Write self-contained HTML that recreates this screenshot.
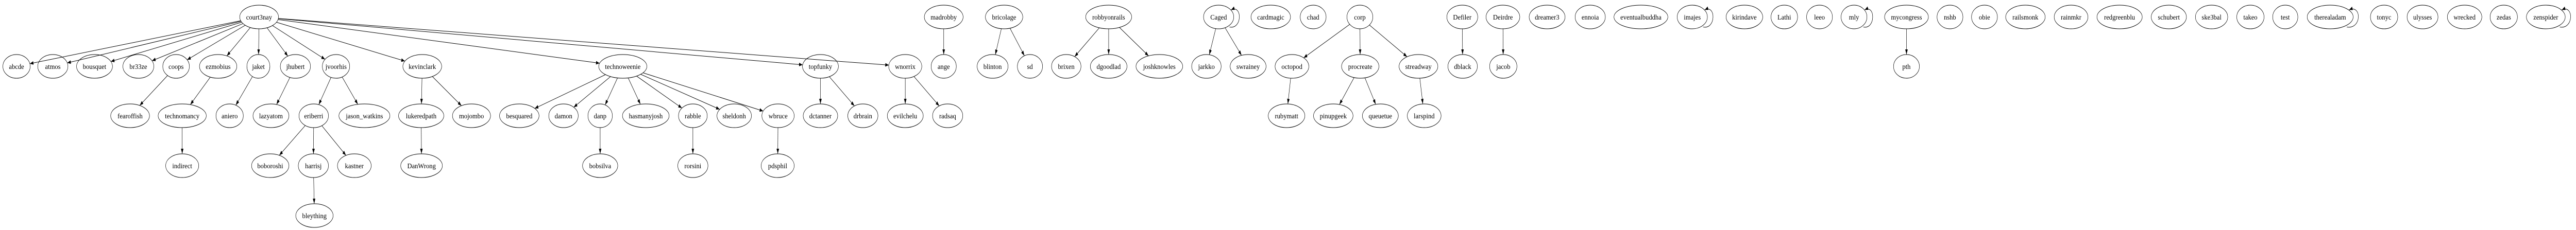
<!DOCTYPE html>
<html><head><meta charset="utf-8"><style>
html,body{margin:0;padding:0;background:#fff;width:100%;height:100%;overflow:hidden}
svg{display:block;position:absolute;left:0;top:0;width:100vw;height:100vh}
svg text{font-family:"Liberation Serif",serif;font-size:14px;text-anchor:middle;transform-box:fill-box;transform-origin:center;transform:scaleX(1.29)}
ellipse{fill:none;stroke:#000;stroke-width:1}
</style></head><body>
<svg id="s" viewBox="0 0 7168 447" preserveAspectRatio="none" xmlns="http://www.w3.org/2000/svg">
<defs><marker id="a" markerUnits="userSpaceOnUse" markerWidth="12" markerHeight="10" refX="10" refY="5" orient="auto"><path d="M0,1.5 L10,5 L0,8.5 Z" fill="#000"/></marker></defs>
<g id="E" fill="none" stroke="#000" stroke-width="1"></g>
<g id="N">
<ellipse id="court3nay" cx="721" cy="33" rx="54" ry="23"/><text x="721" y="38">court3nay</text>
<ellipse id="abcde" cx="46" cy="129" rx="38" ry="23"/><text x="46" y="134">abcde</text>
<ellipse id="atmos" cx="147" cy="129" rx="42" ry="23"/><text x="147" y="134">atmos</text>
<ellipse id="bousquet" cx="263" cy="129" rx="50" ry="23"/><text x="263" y="134">bousquet</text>
<ellipse id="br33ze" cx="385" cy="129" rx="43" ry="23"/><text x="385" y="134">br33ze</text>
<ellipse id="coops" cx="490" cy="129" rx="37" ry="23"/><text x="490" y="134">coops</text>
<ellipse id="ezmobius" cx="607" cy="129" rx="52" ry="23"/><text x="607" y="134">ezmobius</text>
<ellipse id="jaket" cx="719" cy="129" rx="32" ry="23"/><text x="719" y="134">jaket</text>
<ellipse id="jhubert" cx="822" cy="129" rx="42" ry="23"/><text x="822" y="134">jhubert</text>
<ellipse id="jvoorhis" cx="935" cy="129" rx="38" ry="23"/><text x="935" y="134">jvoorhis</text>
<ellipse id="kevinclark" cx="1175" cy="129" rx="54" ry="23"/><text x="1175" y="134">kevinclark</text>
<ellipse id="fearoffish" cx="362" cy="225" rx="54" ry="23"/><text x="362" y="230">fearoffish</text>
<ellipse id="technomancy" cx="507" cy="225" rx="67" ry="23"/><text x="507" y="230">technomancy</text>
<ellipse id="aniero" cx="639" cy="225" rx="38" ry="23"/><text x="639" y="230">aniero</text>
<ellipse id="lazyatom" cx="754" cy="225" rx="50" ry="23"/><text x="754" y="230">lazyatom</text>
<ellipse id="eriberri" cx="873" cy="225" rx="41" ry="23"/><text x="873" y="230">eriberri</text>
<ellipse id="jason_watkins" cx="1014" cy="225" rx="71" ry="23"/><text x="1014" y="230">jason_watkins</text>
<ellipse id="lukeredpath" cx="1172" cy="225" rx="63" ry="23"/><text x="1172" y="230">lukeredpath</text>
<ellipse id="mojombo" cx="1312" cy="225" rx="53" ry="23"/><text x="1312" y="230">mojombo</text>
<ellipse id="indirect" cx="507" cy="322" rx="46" ry="23"/><text x="507" y="327">indirect</text>
<ellipse id="boboroshi" cx="752" cy="322" rx="52" ry="23"/><text x="752" y="327">boboroshi</text>
<ellipse id="harrisj" cx="872" cy="322" rx="42" ry="23"/><text x="872" y="327">harrisj</text>
<ellipse id="kastner" cx="986" cy="322" rx="47" ry="23"/><text x="986" y="327">kastner</text>
<ellipse id="DanWrong" cx="1173" cy="322" rx="58" ry="23"/><text x="1173" y="327">DanWrong</text>
<ellipse id="bleything" cx="875" cy="419" rx="52" ry="23"/><text x="875" y="424">bleything</text>
<ellipse id="technoweenie" cx="1733" cy="129" rx="67" ry="23"/><text x="1733" y="134">technoweenie</text>
<ellipse id="topfunky" cx="2283" cy="129" rx="50" ry="23"/><text x="2283" y="134">topfunky</text>
<ellipse id="besquared" cx="1445" cy="225" rx="55" ry="23"/><text x="1445" y="230">besquared</text>
<ellipse id="damon" cx="1568" cy="225" rx="41" ry="23"/><text x="1568" y="230">damon</text>
<ellipse id="danp" cx="1670" cy="225" rx="34" ry="23"/><text x="1670" y="230">danp</text>
<ellipse id="hasmanyjosh" cx="1797" cy="225" rx="65" ry="23"/><text x="1797" y="230">hasmanyjosh</text>
<ellipse id="rabble" cx="1928" cy="225" rx="40" ry="23"/><text x="1928" y="230">rabble</text>
<ellipse id="sheldonh" cx="2043" cy="225" rx="48" ry="23"/><text x="2043" y="230">sheldonh</text>
<ellipse id="wbruce" cx="2165" cy="225" rx="45" ry="23"/><text x="2165" y="230">wbruce</text>
<ellipse id="dctanner" cx="2283" cy="225" rx="48" ry="23"/><text x="2283" y="230">dctanner</text>
<ellipse id="drbrain" cx="2401" cy="225" rx="42" ry="23"/><text x="2401" y="230">drbrain</text>
<ellipse id="bobsilva" cx="1670" cy="322" rx="49" ry="23"/><text x="1670" y="327">bobsilva</text>
<ellipse id="rorsini" cx="1928" cy="322" rx="42" ry="23"/><text x="1928" y="327">rorsini</text>
<ellipse id="pdsphil" cx="2164" cy="322" rx="46" ry="23"/><text x="2164" y="327">pdsphil</text>
<ellipse id="madrobby" cx="2626" cy="33" rx="54" ry="23"/><text x="2626" y="38">madrobby</text>
<ellipse id="bricolage" cx="2794" cy="33" rx="52" ry="23"/><text x="2794" y="38">bricolage</text>
<ellipse id="robbyonrails" cx="3085" cy="33" rx="64" ry="23"/><text x="3085" y="38">robbyonrails</text>
<ellipse id="Caged" cx="3391" cy="33" rx="42" ry="23"/><text x="3391" y="38">Caged</text>
<ellipse id="cardmagic" cx="3536" cy="33" rx="55" ry="23"/><text x="3536" y="38">cardmagic</text>
<ellipse id="wnorrix" cx="2519" cy="129" rx="46" ry="23"/><text x="2519" y="134">wnorrix</text>
<ellipse id="ange" cx="2626" cy="129" rx="35" ry="23"/><text x="2626" y="134">ange</text>
<ellipse id="blinton" cx="2762" cy="129" rx="43" ry="23"/><text x="2762" y="134">blinton</text>
<ellipse id="sd" cx="2866" cy="129" rx="35" ry="23"/><text x="2866" y="134">sd</text>
<ellipse id="brixen" cx="2967" cy="129" rx="41" ry="23"/><text x="2967" y="134">brixen</text>
<ellipse id="dgoodlad" cx="3085" cy="129" rx="51" ry="23"/><text x="3085" y="134">dgoodlad</text>
<ellipse id="joshknowles" cx="3226" cy="129" rx="65" ry="23"/><text x="3226" y="134">joshknowles</text>
<ellipse id="jarkko" cx="3357" cy="129" rx="41" ry="23"/><text x="3357" y="134">jarkko</text>
<ellipse id="swrainey" cx="3473" cy="129" rx="50" ry="23"/><text x="3473" y="134">swrainey</text>
<ellipse id="octopod" cx="3595" cy="129" rx="47" ry="23"/><text x="3595" y="134">octopod</text>
<ellipse id="evilchelu" cx="2519" cy="225" rx="50" ry="23"/><text x="2519" y="230">evilchelu</text>
<ellipse id="radsaq" cx="2637" cy="225" rx="42" ry="23"/><text x="2637" y="230">radsaq</text>
<ellipse id="rubymatt" cx="3580" cy="225" rx="51" ry="23"/><text x="3580" y="230">rubymatt</text>
<ellipse id="chad" cx="3654" cy="33" rx="36" ry="23"/><text x="3654" y="38">chad</text>
<ellipse id="corp" cx="3784" cy="33" rx="36" ry="23"/><text x="3784" y="38">corp</text>
<ellipse id="Defiler" cx="4069" cy="33" rx="43" ry="23"/><text x="4069" y="38">Defiler</text>
<ellipse id="Deirdre" cx="4182" cy="33" rx="47" ry="23"/><text x="4182" y="38">Deirdre</text>
<ellipse id="dreamer3" cx="4305" cy="33" rx="50" ry="23"/><text x="4305" y="38">dreamer3</text>
<ellipse id="ennoia" cx="4425" cy="33" rx="42" ry="23"/><text x="4425" y="38">ennoia</text>
<ellipse id="eventualbuddha" cx="4566" cy="33" rx="75" ry="23"/><text x="4566" y="38">eventualbuddha</text>
<ellipse id="imajes" cx="4709" cy="33" rx="42" ry="23"/><text x="4709" y="38">imajes</text>
<ellipse id="procreate" cx="3785" cy="129" rx="52" ry="23"/><text x="3785" y="134">procreate</text>
<ellipse id="streadway" cx="3947" cy="129" rx="54" ry="23"/><text x="3947" y="134">streadway</text>
<ellipse id="dblack" cx="4070" cy="129" rx="41" ry="23"/><text x="4070" y="134">dblack</text>
<ellipse id="jacob" cx="4183" cy="129" rx="38" ry="23"/><text x="4183" y="134">jacob</text>
<ellipse id="pinupgeek" cx="3710" cy="225" rx="55" ry="23"/><text x="3710" y="230">pinupgeek</text>
<ellipse id="queuetue" cx="3841" cy="225" rx="50" ry="23"/><text x="3841" y="230">queuetue</text>
<ellipse id="larspind" cx="3963" cy="225" rx="47" ry="23"/><text x="3963" y="230">larspind</text>
<ellipse id="kirindave" cx="4854" cy="33" rx="51" ry="23"/><text x="4854" y="38">kirindave</text>
<ellipse id="Lathi" cx="4965" cy="33" rx="37" ry="23"/><text x="4965" y="38">Lathi</text>
<ellipse id="leeo" cx="5063" cy="33" rx="36" ry="23"/><text x="5063" y="38">leeo</text>
<ellipse id="mly" cx="5159" cy="33" rx="36" ry="23"/><text x="5159" y="38">mly</text>
<ellipse id="mycongress" cx="5305" cy="33" rx="61" ry="23"/><text x="5305" y="38">mycongress</text>
<ellipse id="nshb" cx="5426" cy="33" rx="36" ry="23"/><text x="5426" y="38">nshb</text>
<ellipse id="obie" cx="5522" cy="33" rx="36" ry="23"/><text x="5522" y="38">obie</text>
<ellipse id="railsmonk" cx="5636" cy="33" rx="55" ry="23"/><text x="5636" y="38">railsmonk</text>
<ellipse id="rainmkr" cx="5763" cy="33" rx="47" ry="23"/><text x="5763" y="38">rainmkr</text>
<ellipse id="redgreenblu" cx="5898" cy="33" rx="63" ry="23"/><text x="5898" y="38">redgreenblu</text>
<ellipse id="pth" cx="5305" cy="129" rx="36" ry="23"/><text x="5305" y="134">pth</text>
<ellipse id="schubert" cx="6035" cy="33" rx="49" ry="23"/><text x="6035" y="38">schubert</text>
<ellipse id="ske3bal" cx="6154" cy="33" rx="45" ry="23"/><text x="6154" y="38">ske3bal</text>
<ellipse id="takeo" cx="6262" cy="33" rx="38" ry="23"/><text x="6262" y="38">takeo</text>
<ellipse id="test" cx="6359" cy="33" rx="35" ry="23"/><text x="6359" y="38">test</text>
<ellipse id="therealadam" cx="6484" cy="33" rx="64" ry="23"/><text x="6484" y="38">therealadam</text>
<ellipse id="tonyc" cx="6634" cy="33" rx="38" ry="23"/><text x="6634" y="38">tonyc</text>
<ellipse id="ulysses" cx="6741" cy="33" rx="43" ry="23"/><text x="6741" y="38">ulysses</text>
<ellipse id="wrecked" cx="6858" cy="33" rx="48" ry="23"/><text x="6858" y="38">wrecked</text>
<ellipse id="zedas" cx="6967" cy="33" rx="38" ry="23"/><text x="6967" y="38">zedas</text>
<ellipse id="zenspider" cx="7084" cy="33" rx="54" ry="23"/><text x="7084" y="38">zenspider</text>
</g>
</svg>
<script>
(function(){
var E=document.getElementById('E'),NS='http://www.w3.org/2000/svg';
function n(id){var e=document.getElementById(id);return{x:+e.getAttribute('cx'),y:+e.getAttribute('cy'),rx:+e.getAttribute('rx'),ry:+e.getAttribute('ry')};}
function bp(a,dx,dy){var t=1/Math.sqrt(dx*dx/(a.rx*a.rx)+dy*dy/(a.ry*a.ry));return[a.x+dx*t,a.y+dy*t];}
function add(d){var p=document.createElementNS(NS,'path');p.setAttribute('d',d);p.setAttribute('marker-end','url(#a)');E.appendChild(p);}
var edges="court3nay:abcde,atmos,bousquet,br33ze,coops,ezmobius,jaket,jhubert,jvoorhis,kevinclark,technoweenie,topfunky,wnorrix;coops:fearoffish;ezmobius:technomancy;technomancy:indirect;jaket:aniero;jhubert:lazyatom;jvoorhis:eriberri,jason_watkins;eriberri:boboroshi,harrisj,kastner;harrisj:bleything;kevinclark:lukeredpath,mojombo;lukeredpath:DanWrong;technoweenie:besquared,damon,danp,hasmanyjosh,rabble,sheldonh,wbruce;danp:bobsilva;rabble:rorsini;wbruce:pdsphil;topfunky:dctanner,drbrain;wnorrix:evilchelu,radsaq;madrobby:ange;bricolage:blinton,sd;robbyonrails:brixen,dgoodlad,joshknowles;Caged:jarkko,swrainey;corp:octopod,procreate,streadway;octopod:rubymatt;procreate:pinupgeek,queuetue;streadway:larspind;Defiler:dblack;Deirdre:jacob;mycongress:pth";
edges.split(';').forEach(function(g){var s=g.split(':'),a=n(s[0]);s[1].split(',').forEach(function(c){var b=n(c),dx=b.x-a.x,dy=b.y-a.y;var p=bp(a,dx,dy),q=bp(b,-dx,-dy);add('M'+p[0]+','+p[1]+' L'+q[0]+','+q[1]);});});
['Caged','imajes','mly','therealadam','zenspider'].forEach(function(id){var a=n(id);var sx=a.x+a.rx*0.72,sy=a.y+a.ry*0.72,ex=a.x+a.rx*0.82,ey=a.y-a.ry*0.6,ox=a.x+a.rx+24;
add('M'+sx+','+(sy+3)+' C'+ox+','+(sy+8)+' '+ox+','+(a.y-a.ry-2)+' '+ex+','+ey);});
})();
</script>
</body></html>
